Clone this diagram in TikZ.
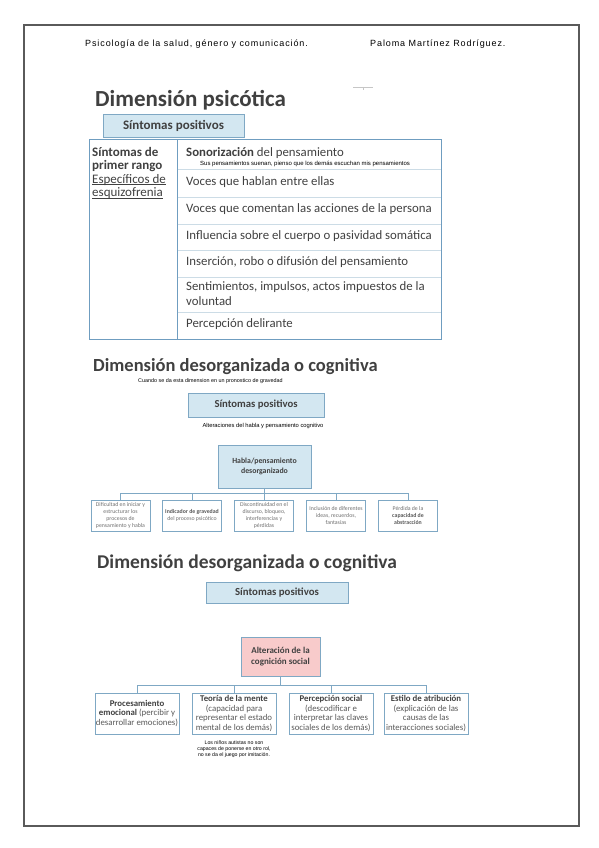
\documentclass[tikz,border=0pt]{standalone}
\usepackage{fontspec}
\setmainfont{Carlito}
\newfontfamily\arialf{Liberation Sans}
\newfontfamily\handf[LetterSpace=10]{Liberation Sans}
\newcommand{\fsz}[2]{\fontsize{#1}{#2}\selectfont}
\newcommand{\myul}[1]{\leavevmode\setbox0\hbox{#1}\rlap{\rule[-1.6pt]{\wd0}{0.55pt}}\box0}
\definecolor{txtdark}{HTML}{404040}
\definecolor{txtgray}{HTML}{595959}
\definecolor{txtlight}{HTML}{707070}
\definecolor{boxfill}{HTML}{D3E7F1}
\definecolor{boxedge}{HTML}{7FA8C4}
\definecolor{tableedge}{HTML}{6F9DC0}
\definecolor{rowedge}{HTML}{CCDCE6}
\definecolor{pinkfill}{HTML}{F8CBCB}
\definecolor{pageedge}{HTML}{5A5A5A}
\tikzset{
  txt/.style={inner sep=0pt, text=txtdark},
  bluebox/.style={draw=boxedge, fill=boxfill, line width=0.8pt, inner sep=1pt, text=txtdark, align=center},
  childbox/.style={draw=boxedge, fill=white, line width=0.8pt, align=center, inner sep=1pt},
  link/.style={draw=boxedge, line width=0.8pt},
}
\begin{document}
\begin{tikzpicture}[x=1pt,y=-1pt]
\useasboundingbox (0,0) rectangle (599,848);
\draw[pageedge, line width=1.2pt] (24,25) rectangle (579,826);

% header
\node[txt, anchor=base west, font=\handf\fsz{9}{11}, text=black] (hdrL) at (85,47) {Psicología de la salud, género y comunicación.};
\node[txt, anchor=base west, font=\handf\fsz{9}{11}, text=black] (hdrR) at (370,47) {Paloma Martínez Rodríguez.};
\draw[gray!45, line width=0.5pt] (353,87) -- (373,87) (363,87) -- (363,90);

% ---- section 1
\node[txt, anchor=base west, font=\bfseries\fsz{23}{27}] (title1) at (95,107) {Dimensión psicótica};
\node[bluebox, minimum width=141pt, minimum height=23pt, font=\bfseries\fsz{13}{15}] (sp1) at (173.5,125.5) {Síntomas positivos};

\node[draw=tableedge, line width=1pt, minimum width=352pt, minimum height=200pt, anchor=north west, inner sep=0pt] (table) at (89,139) {};
\draw[tableedge, line width=0.8pt] (177,139) -- (177,339);
\foreach \yy in {169,197,224,250,277,312} \draw[rowedge, line width=0.8pt] (177.5,\yy) -- (440.5,\yy);

\node[txt, anchor=north west, align=left, font=\fsz{13}{13.5}] (leftcol) at (92,147) {\textbf{Síntomas de}\\\textbf{primer rango}\\\myul{Específicos de}\\\myul{esquizofrenia}};

\node[txt, anchor=base west, font=\fsz{12.8}{15}] (r1) at (186,157) {\textbf{Sonorización} del pensamiento};
\node[txt, anchor=base west, font=\arialf\fsz{6}{7}, text=black] (r1b) at (200,165.5) {Sus pensamientos suenan, pienso que los demás escuchan mis pensamientos};
\node[txt, anchor=west, font=\fsz{12.8}{15}] (r2) at (186,182) {Voces que hablan entre ellas};
\node[txt, anchor=west, font=\fsz{12.8}{15}] (r3) at (186,209) {Voces que comentan las acciones de la persona};
\node[txt, anchor=west, font=\fsz{12.8}{15}] (r4) at (186,236) {Influencia sobre el cuerpo o pasividad somática};
\node[txt, anchor=west, font=\fsz{12.8}{15}] (r5) at (186,262.5) {Inserción, robo o difusión del pensamiento};
\node[txt, anchor=west, align=left, font=\fsz{12.8}{15}] (r6) at (186,294) {Sentimientos, impulsos, actos impuestos de la\\voluntad};
\node[txt, anchor=west, font=\fsz{12.8}{15}] (r7) at (186,324.5) {Percepción delirante};

% ---- section 2
\node[txt, anchor=base west, font=\bfseries\fsz{18.5}{22}] (title2) at (93,371) {Dimensión desorganizada o cognitiva};
\node[txt, anchor=base west, font=\arialf\fsz{5.4}{6}, text=black] (note2) at (138,382) {Cuando se da esta dimension en un pronostico de gravedad};
\node[bluebox, minimum width=136pt, minimum height=24pt, font=\bfseries\fsz{10.7}{12}] (sp2) at (256,405) {Síntomas positivos};
\node[txt, anchor=base, font=\arialf\fsz{5.8}{7}, text=black] (note3) at (263,427.5) {Alteraciones del habla y pensamiento cognitivo};

\node[bluebox, minimum width=93pt, minimum height=43pt, font=\bfseries\fsz{7.8}{10}] (habla) at (264.5,466.5) {Habla/pensamiento\\desorganizado};
\coordinate (j2) at (264.5,493);

\tikzset{kid2/.style={childbox, minimum width=59pt, minimum height=31pt, inner sep=0.5pt, font=\fsz{5.8}{7}, text=txtlight}}
\node[kid2] (c1) at (120.5,515.5) {Dificultad en iniciar y\\estructurar los\\procesos de\\pensamiento y habla};
\node[kid2] (c2) at (192,515.5) {\textbf{\color{txtgray}Indicador de gravedad}\\del proceso psicótico};
\node[kid2] (c3) at (264,515.5) {Discontinuidad en el\\discurso, bloqueo,\\interferencias y\\pérdidas};
\node[kid2] (c4) at (336,515.5) {Inclusión de diferentes\\ideas, recuerdos,\\fantasías};
\node[kid2] (c5) at (408,515.5) {Pérdida de la\\\textbf{\color{txtgray}capacidad de}\\\textbf{\color{txtgray}abstracción}};
\draw[link] (habla.south) -- (j2);
\foreach \k in {c1,c2,c3,c4,c5} \draw[link] (j2) -| (\k.north);

% ---- section 3
\node[txt, anchor=base west, font=\bfseries\fsz{19.5}{23}] (title3) at (97,568) {Dimensión desorganizada o cognitiva};
\node[bluebox, minimum width=142pt, minimum height=21pt, font=\bfseries\fsz{10.8}{12}] (sp3) at (277,592.5) {Síntomas positivos};

\node[bluebox, fill=pinkfill, minimum width=79pt, minimum height=39pt, font=\bfseries\fsz{9}{11}] (cog) at (280.5,656.5) {Alteración de la\\cognición social};
\coordinate (j3) at (280.5,685);

\tikzset{kid3/.style={childbox, minimum width=84pt, minimum height=41pt, font=\fsz{8.8}{9.5}, text=txtgray}}
\node[kid3] (d1) at (137,713.5) {\textbf{\color{txtdark}Procesamiento}\\\textbf{\color{txtdark}emocional} (percibir y\\desarrollar emociones)};
\node[kid3] (d2) at (234,713.5) {\textbf{\color{txtdark}Teoría de la mente}\\(capacidad para\\representar el estado\\mental de los demás)};
\node[kid3] (d3) at (331,713.5) {\textbf{\color{txtdark}Percepción social}\\(descodificar e\\interpretar las claves\\sociales de los demás)};
\node[kid3] (d4) at (426,713.5) {\textbf{\color{txtdark}Estilo de atribución}\\(explicación de las\\causas de las\\interacciones sociales)};
\draw[link] (cog.south) -- (j3);
\foreach \k in {d1,d2,d3,d4} \draw[link] (j3) -| (\k.north);

\node[txt, anchor=north, align=center, font=\arialf\fsz{5.2}{5.6}, text=black] (note4) at (234,741) {Los niños autistas no son\\capaces de ponerse en otro rol,\\no se da el juego por imitación.};
\end{tikzpicture}
\end{document}
